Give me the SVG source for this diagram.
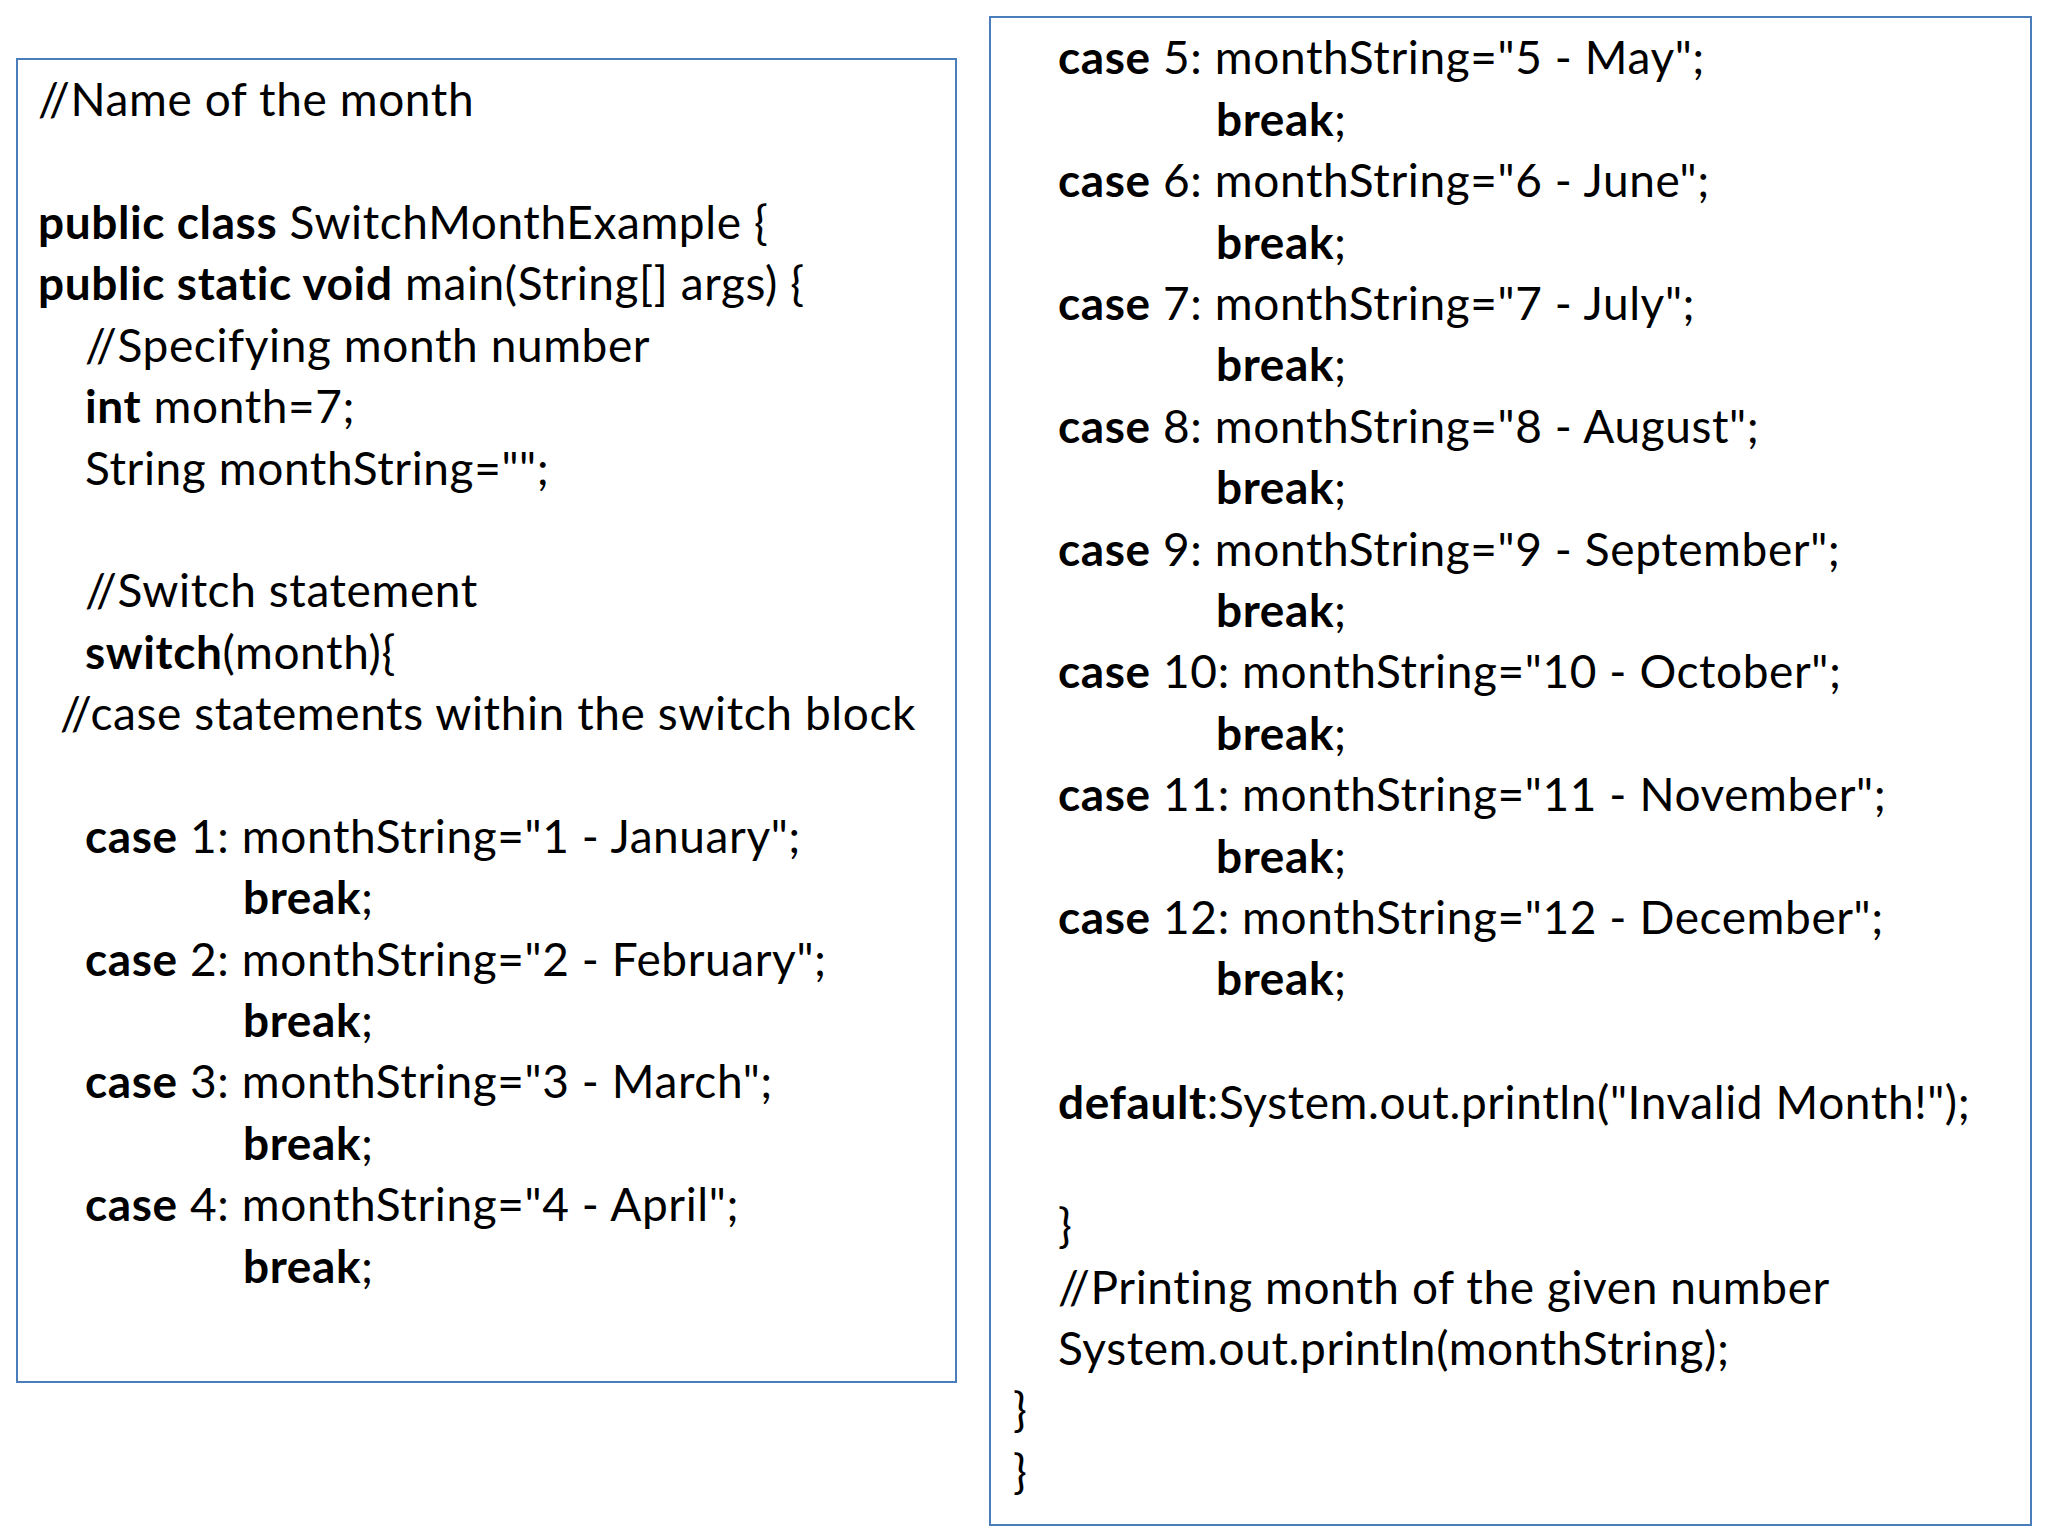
<svg xmlns="http://www.w3.org/2000/svg" width="2048" height="1536" viewBox="0 0 2048 1536">
<style>
text{font-family:Lato,"Liberation Sans",sans-serif;font-size:46px;letter-spacing:0.6px;fill:#000}
.b{font-weight:bold}
.box{fill:#fff;stroke:#4a7ebb;stroke-width:2}
</style>
<rect width="2048" height="1536" fill="#fff"/>
<g id="left">
<rect class="box" x="17" y="59" width="939" height="1323"/>
<text x="38" y="116">//Name of the month</text>
<text x="38" y="239"><tspan class="b">public class</tspan> SwitchMonthExample {</text>
<text x="38" y="300"><tspan class="b">public static void</tspan> main(String[] args) {</text>
<text x="85" y="362">//Specifying month number</text>
<text x="85" y="423"><tspan class="b">int</tspan> month=7;</text>
<text x="85" y="485">String monthString="";</text>
<text x="85" y="607">//Switch statement</text>
<text x="85" y="669"><tspan class="b">switch</tspan>(month){</text>
<text x="60" y="730">//case statements within the switch block</text>
<text x="85" y="853"><tspan class="b">case</tspan> 1: monthString="1 - January";</text>
<text x="243" y="914" class="b">break<tspan font-weight="normal">;</tspan></text>
<text x="85" y="976"><tspan class="b">case</tspan> 2: monthString="2 - February";</text>
<text x="243" y="1037" class="b">break<tspan font-weight="normal">;</tspan></text>
<text x="85" y="1098"><tspan class="b">case</tspan> 3: monthString="3 - March";</text>
<text x="243" y="1160" class="b">break<tspan font-weight="normal">;</tspan></text>
<text x="85" y="1221"><tspan class="b">case</tspan> 4: monthString="4 - April";</text>
<text x="243" y="1283" class="b">break<tspan font-weight="normal">;</tspan></text>
</g>
<g id="right">
<rect class="box" x="990" y="17" width="1041" height="1508"/>
<text x="1058" y="74"><tspan class="b">case</tspan> 5: monthString="5 - May";</text>
<text x="1216" y="136" class="b">break<tspan font-weight="normal">;</tspan></text>
<text x="1058" y="197"><tspan class="b">case</tspan> 6: monthString="6 - June";</text>
<text x="1216" y="259" class="b">break<tspan font-weight="normal">;</tspan></text>
<text x="1058" y="320"><tspan class="b">case</tspan> 7: monthString="7 - July";</text>
<text x="1216" y="381" class="b">break<tspan font-weight="normal">;</tspan></text>
<text x="1058" y="443"><tspan class="b">case</tspan> 8: monthString="8 - August";</text>
<text x="1216" y="504" class="b">break<tspan font-weight="normal">;</tspan></text>
<text x="1058" y="566"><tspan class="b">case</tspan> 9: monthString="9 - September";</text>
<text x="1216" y="627" class="b">break<tspan font-weight="normal">;</tspan></text>
<text x="1058" y="688"><tspan class="b">case</tspan> 10: monthString="10 - October";</text>
<text x="1216" y="750" class="b">break<tspan font-weight="normal">;</tspan></text>
<text x="1058" y="811"><tspan class="b">case</tspan> 11: monthString="11 - November";</text>
<text x="1216" y="873" class="b">break<tspan font-weight="normal">;</tspan></text>
<text x="1058" y="934"><tspan class="b">case</tspan> 12: monthString="12 - December";</text>
<text x="1216" y="995" class="b">break<tspan font-weight="normal">;</tspan></text>
<text x="1058" y="1119"><tspan class="b">default</tspan>:System.out.println("Invalid Month!");</text>
<text x="1058" y="1242">}</text>
<text x="1058" y="1304">//Printing month of the given number</text>
<text x="1058" y="1365">System.out.println(monthString);</text>
<text x="1013" y="1426">}</text>
<text x="1013" y="1488">}</text>
</g>
</svg>
